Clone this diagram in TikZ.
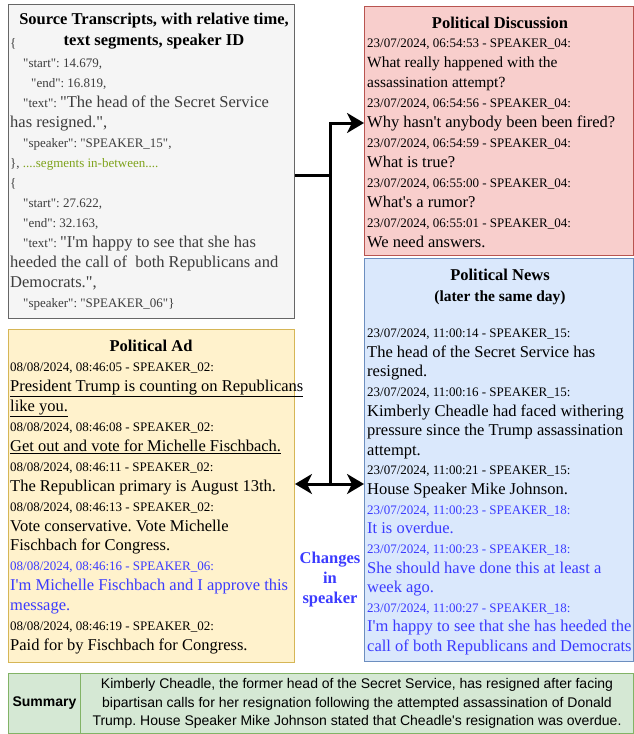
\documentclass[tikz,border=0pt]{standalone}
\usepackage{fontspec}
\setmainfont{Liberation Serif}[Ligatures=TeXOff]
\newfontfamily\sumfont{Liberation Sans}[Ligatures=TeXOff]
\usetikzlibrary{arrows.meta, positioning}
\frenchspacing

\definecolor{srcfill}{HTML}{F5F5F5}
\definecolor{srcline}{HTML}{666666}
\definecolor{srctext}{HTML}{3D3D3D}
\definecolor{gapgreen}{HTML}{7FA31C}
\definecolor{discfill}{HTML}{F8CECC}
\definecolor{discline}{HTML}{B85450}
\definecolor{newsfill}{HTML}{DAE8FC}
\definecolor{newsline}{HTML}{6C8EBF}
\definecolor{adfill}{HTML}{FFF2CC}
\definecolor{adline}{HTML}{D6B656}
\definecolor{sumfill}{HTML}{D5E8D4}
\definecolor{sumline}{HTML}{82B366}
\definecolor{spkblue}{HTML}{3B3BFF}

\newcommand{\stamp}[1]{{\fontsize{13}{20}\selectfont #1}}
\newcommand{\jstr}[1]{{\fontsize{16.5}{20}\selectfont #1}}
\newcommand{\chgtxt}[1]{\textcolor{spkblue}{#1}}

\begin{document}
\begin{tikzpicture}[x=1pt, y=-1pt,
  frame/.style={draw, line width=1pt, anchor=north west, inner sep=0pt},
  head/.style={anchor=north, inner sep=0pt, align=center, font=\fontsize{16.5}{20}\selectfont\bfseries},
  body/.style={anchor=north west, inner sep=0pt, align=left},
  link/.style={line width=3pt},
  arr/.style={line width=3pt, -{Stealth[length=17pt, width=20pt, inset=5pt]}}
]
\useasboundingbox (0,0) rectangle (634,734);

% boxes
\node[frame, fill=srcfill, draw=srcline, minimum width=286pt, minimum height=314pt] (src) at (8,4) {};
\node[frame, fill=discfill, draw=discline, minimum width=269pt, minimum height=249pt] (disc) at (364,6) {};
\node[frame, fill=newsfill, draw=newsline, minimum width=269pt, minimum height=403pt] (news) at (364,258) {};
\node[frame, fill=adfill, draw=adline, minimum width=286pt, minimum height=333pt] (ad) at (8,329) {};
\node[frame, fill=sumfill, draw=sumline, minimum width=72pt, minimum height=60pt,
  font=\sumfont\fontsize{14}{18.5}\selectfont\bfseries] (sumlbl) at (8,673) {Summary};
\node[frame, fill=sumfill, draw=sumline, minimum width=553pt, minimum height=60pt, align=center,
  font=\sumfont\fontsize{14}{18.5}\selectfont] (sumtxt) at (80,673)
  {Kimberly Cheadle, the former head of the Secret Service, has resigned after facing\\
   bipartisan calls for her resignation following the attempted assassination of Donald\\
   Trump. House Speaker Mike Johnson stated that Cheadle's resignation was overdue.};

% titles
\node[head, font=\fontsize{16.5}{21}\selectfont\bfseries] (srchead) at (154,9.9)
  {\strut Source Transcripts, with relative time,\\ text segments, speaker ID};
\node[head] (dischead) at (500,14.6) {\strut Political Discussion};
\node[head, font=\fontsize{16.5}{20.7}\selectfont\bfseries] (newshead) at (500,266.1)
  {\strut Political News\\ {\fontsize{15.5}{20.7}\selectfont (later the same day)}};
\node[head] (adhead) at (151,337.6) {\strut Political Ad};

% source transcript
\node[body, text=srctext, font=\fontsize{13}{20}\selectfont] (srcbody) at (10,33.3)
  {\strut\{\\
   \hspace{13pt}"start": 14.679,\\
   \hspace{21pt}"end": 16.819,\\
   \hspace{13pt}"text": \jstr{"The head of the Secret Service}\\
   \jstr{has resigned.",}\\
   \hspace{13pt}"speaker": "SPEAKER\_15",\\
   \}, \textcolor{gapgreen}{....segments in-between....}\\
   \{\\
   \hspace{13pt}"start": 27.622,\\
   \hspace{13pt}"end": 32.163,\\
   \hspace{13pt}"text": \jstr{"I'm happy to see that she has}\\
   \jstr{heeded the call of\ \ both Republicans and}\\
   \jstr{Democrats.",}\\
   \hspace{13pt}"speaker": "SPEAKER\_06"\}};

% discussion
\node[body, font=\fontsize{16.5}{20}\selectfont] (discbody) at (367,33.3)
  {\strut\stamp{23/07/2024, 06:54:53 - SPEAKER\_04:}\\
   {\fontsize{15.5}{20}\selectfont What really happened with the}\\
   {\fontsize{15.5}{20}\selectfont assassination attempt?}\\
   \stamp{23/07/2024, 06:54:56 - SPEAKER\_04:}\\
   Why hasn't anybody been been fired?\\
   \stamp{23/07/2024, 06:54:59 - SPEAKER\_04:}\\
   What is true?\\
   \stamp{23/07/2024, 06:55:00 - SPEAKER\_04:}\\
   What's a rumor?\\
   \stamp{23/07/2024, 06:55:01 - SPEAKER\_04:}\\
   We need answers.};

% news
\node[body, font=\fontsize{16.5}{19.63}\selectfont] (newsbody) at (367,323.6)
  {\strut\stamp{23/07/2024, 11:00:14 - SPEAKER\_15:}\\
   The head of the Secret Service has\\
   resigned.\\
   \stamp{23/07/2024, 11:00:16 - SPEAKER\_15:}\\
   Kimberly Cheadle had faced withering\\
   pressure since the Trump assassination\\
   attempt.\\
   \stamp{23/07/2024, 11:00:21 - SPEAKER\_15:}\\
   House Speaker Mike Johnson.\\
   \stamp{\chgtxt{23/07/2024, 11:00:23 - SPEAKER\_18:}}\\
   \chgtxt{It is overdue.}\\
   \stamp{\chgtxt{23/07/2024, 11:00:23 - SPEAKER\_18:}}\\
   \chgtxt{She should have done this at least a}\\
   \chgtxt{week ago.}\\
   \stamp{\chgtxt{23/07/2024, 11:00:27 - SPEAKER\_18:}}\\
   \chgtxt{I'm happy to see that she has heeded the}\\
   \chgtxt{call of both Republicans and Democrats}};

% ad
\node[body, font=\fontsize{16.5}{19.93}\selectfont] (adbody) at (10,357.4)
  {\strut\stamp{08/08/2024, 08:46:05 - SPEAKER\_02:}\\
   \underline{President Trump is counting on Republicans}\\
   \underline{like you.}\\
   \stamp{08/08/2024, 08:46:08 - SPEAKER\_02:}\\
   \underline{Get out and vote for Michelle Fischbach.}\\
   \stamp{08/08/2024, 08:46:11 - SPEAKER\_02:}\\
   The Republican primary is August 13th.\\
   \stamp{08/08/2024, 08:46:13 - SPEAKER\_02:}\\
   Vote conservative. Vote Michelle\\
   Fischbach for Congress.\\
   \stamp{\chgtxt{08/08/2024, 08:46:16 - SPEAKER\_06:}}\\
   \chgtxt{I'm Michelle Fischbach and I approve this}\\
   \chgtxt{message.}\\
   \stamp{08/08/2024, 08:46:19 - SPEAKER\_02:}\\
   Paid for by Fischbach for Congress.};

\node[font=\fontsize{16.5}{20}\selectfont\bfseries, text=spkblue, align=center] (chg) at (330,580)
  {Changes\\in\\speaker};

% connectors
\coordinate (fork) at (330,175);
\coordinate (up) at (330,123);
\coordinate (down) at (330,484);
\draw[link] (src.east |- fork) -- (fork) -- (down);
\draw[arr] (fork) |- (disc.west |- up);
\draw[arr] (down) -- (news.west |- down);
\draw[arr] (down) -- (ad.east |- down);
\end{tikzpicture}
\end{document}
